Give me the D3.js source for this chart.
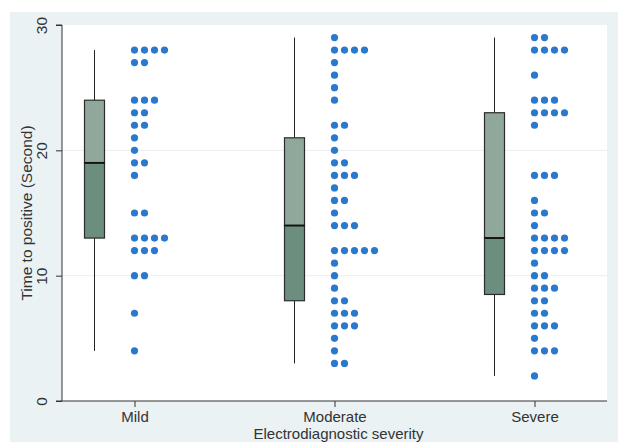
<!DOCTYPE html>
<html>
<head>
<meta charset="utf-8">
<script src="https://cdn.jsdelivr.net/npm/d3@7"></script>
<style>
  html, body { margin: 0; padding: 0; background: #fff; }
  svg { display: block; font-family: "Liberation Sans", Arial, sans-serif; }
</style>
</head>
<body>
<div id="chart"></div>
<script>
const categories = ['Mild', 'Moderate', 'Severe'];
const yTicks = [0, 10, 20, 30];

// box summaries per category
const whiskerLow  = [4, 3, 2];
const q1          = [13, 8, 8.5];
const medians     = [19, 14, 13];
const q3          = [24, 21, 23];
const whiskerHigh = [28, 29, 29];

// dot strips: value and number of stacked dots at that value
const mildValues = [28, 27, 24, 23, 22, 21, 20, 19, 18, 15, 13, 12, 10, 7, 4];
const mildCounts = [4, 2, 3, 2, 2, 1, 1, 2, 1, 2, 4, 3, 2, 1, 1];
const moderateValues = [29, 28, 27, 26, 25, 24, 22, 21, 20, 19, 18, 17, 16, 15, 14, 12, 11, 10, 9, 8, 7, 6, 5, 4, 3];
const moderateCounts = [1, 4, 1, 1, 1, 1, 2, 1, 1, 2, 3, 1, 2, 1, 3, 5, 1, 1, 1, 2, 3, 3, 1, 1, 2];
const severeValues = [29, 28, 26, 24, 23, 22, 18, 16, 15, 14, 13, 12, 11, 10, 9, 8, 7, 6, 5, 4, 2];
const severeCounts = [2, 4, 1, 3, 4, 1, 3, 1, 2, 1, 4, 4, 1, 2, 3, 2, 2, 3, 1, 3, 1];

const width = 618, height = 442;
const plot = { left: 62, right: 607, top: 25, bottom: 401 };
const boxOffset = -40, boxWidth = 20, dotStep = 10, dotRadius = 3.6;

const svg = d3.select('#chart').append('svg')
  .attr('width', width)
  .attr('height', height);

// outer stata-like background
svg.append('rect')
  .attr('x', 10).attr('y', 12)
  .attr('width', width - 10).attr('height', height - 12)
  .attr('fill', '#eaf2f4');

svg.append('rect')
  .attr('x', plot.left).attr('y', plot.top)
  .attr('width', plot.right - plot.left).attr('height', plot.bottom - plot.top)
  .attr('fill', '#fff');

const x = d3.scalePoint()
  .domain(categories)
  .range([plot.left, plot.right])
  .padding(0.3625);

const y = d3.scaleLinear()
  .domain([0, 30])
  .range([plot.bottom, plot.top]);

// gridlines
svg.append('g')
  .selectAll('line')
  .data(yTicks.filter(t => t > 0 && t < 30))
  .join('line')
  .attr('x1', plot.left).attr('x2', plot.right)
  .attr('y1', d => y(d)).attr('y2', d => y(d))
  .attr('stroke', '#e9f0f2')
  .attr('stroke-width', 1);

// boxes
const boxes = categories.map((c, i) => ({
  cat: c, lo: whiskerLow[i], q1: q1[i], med: medians[i], q3: q3[i], hi: whiskerHigh[i]
}));

const boxG = svg.append('g');
boxes.forEach(b => {
  const cx = x(b.cat) + boxOffset;
  const g = boxG.append('g');
  g.append('line')
    .attr('x1', cx).attr('x2', cx)
    .attr('y1', y(b.hi)).attr('y2', y(b.q3))
    .attr('stroke', '#222').attr('stroke-width', 1);
  g.append('line')
    .attr('x1', cx).attr('x2', cx)
    .attr('y1', y(b.q1)).attr('y2', y(b.lo))
    .attr('stroke', '#222').attr('stroke-width', 1);
  g.append('rect')
    .attr('x', cx - boxWidth / 2).attr('width', boxWidth)
    .attr('y', y(b.q3)).attr('height', y(b.med) - y(b.q3))
    .attr('fill', '#8fa89b').attr('stroke', '#2b2b2b').attr('stroke-width', 1.2);
  g.append('rect')
    .attr('x', cx - boxWidth / 2).attr('width', boxWidth)
    .attr('y', y(b.med)).attr('height', y(b.q1) - y(b.med))
    .attr('fill', '#6b8e7f').attr('stroke', '#2b2b2b').attr('stroke-width', 1.2);
  g.append('line')
    .attr('x1', cx - boxWidth / 2).attr('x2', cx + boxWidth / 2)
    .attr('y1', y(b.med)).attr('y2', y(b.med))
    .attr('stroke', '#111').attr('stroke-width', 1.8);
});

// dots
const strips = [
  { cat: 'Mild', values: mildValues, counts: mildCounts },
  { cat: 'Moderate', values: moderateValues, counts: moderateCounts },
  { cat: 'Severe', values: severeValues, counts: severeCounts }
];

const dots = [];
strips.forEach(s => {
  s.values.forEach((v, i) => {
    d3.range(s.counts[i]).forEach(k => dots.push({ cat: s.cat, value: v, k }));
  });
});

svg.append('g')
  .selectAll('circle')
  .data(dots)
  .join('circle')
  .attr('cx', d => x(d.cat) + d.k * dotStep)
  .attr('cy', d => y(d.value))
  .attr('r', dotRadius)
  .attr('fill', '#2a79cc');

// axes
const yAxis = svg.append('g')
  .attr('transform', `translate(${plot.left},0)`)
  .call(d3.axisLeft(y).tickValues(yTicks).tickSize(6).tickPadding(0).tickFormat(d3.format('d')));
yAxis.select('.domain').attr('stroke', '#333').attr('d', `M-6,${plot.top}H0V${plot.bottom}H-6`);
yAxis.selectAll('.tick line').attr('stroke', '#333');
yAxis.selectAll('.tick text')
  .attr('transform', 'translate(-15,0) rotate(-90)')
  .attr('x', 0).attr('y', 0)
  .attr('dy', 0)
  .attr('text-anchor', 'middle')
  .attr('font-size', 15.5)
  .attr('fill', '#333');

const xAxis = svg.append('g')
  .attr('transform', `translate(0,${plot.bottom})`)
  .call(d3.axisBottom(x).tickSize(6).tickPadding(4));
xAxis.select('.domain').attr('stroke', '#333').attr('d', `M${plot.left},0H${plot.right}`);
xAxis.selectAll('.tick line').attr('stroke', '#333');
xAxis.selectAll('.tick text')
  .attr('font-size', 15)
  .attr('fill', '#333')
  .attr('y', 0).attr('dy', 0)
  .attr('transform', 'translate(0,21)');

svg.append('text')
  .attr('x', (plot.left + plot.right) / 2 + 4)
  .attr('y', 439)
  .attr('text-anchor', 'middle')
  .attr('font-size', 15)
  .attr('fill', '#333')
  .text('Electrodiagnostic severity');

svg.append('text')
  .attr('transform', `translate(32,${(plot.top + plot.bottom) / 2}) rotate(-90)`)
  .attr('text-anchor', 'middle')
  .attr('font-size', 15.5)
  .attr('fill', '#333')
  .text('Time to positive (Second)');
</script>
</body>
</html>
